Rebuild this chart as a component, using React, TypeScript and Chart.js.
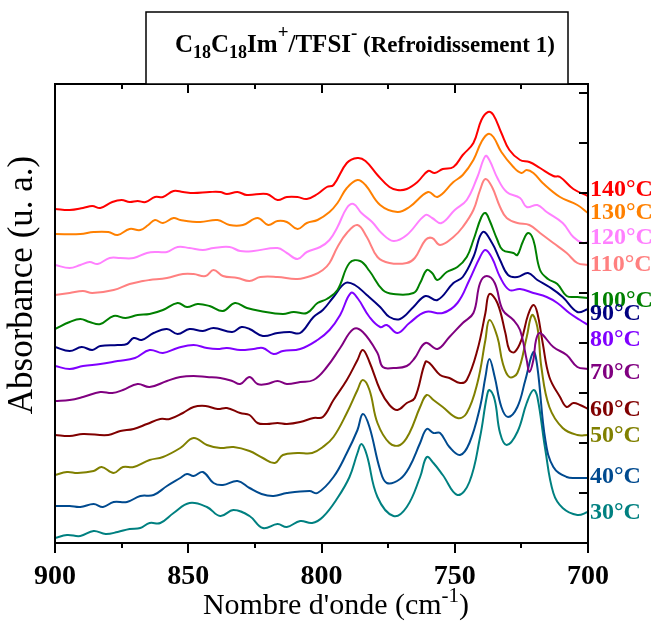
import React, { useEffect, useRef } from 'react';
import { Chart, registerables } from 'chart.js';

Chart.register(...registerables);

// ---------- DATA ----------
const temps = ['140°C', '130°C', '120°C', '110°C', '100°C', '90°C', '80°C', '70°C', '60°C', '50°C', '40°C', '30°C'];
const colors = ['#ff0000', '#ff8000', '#ff80ff', '#ff8080', '#008000', '#000080', '#8000ff', '#800080', '#800000', '#808000', '#004a8f', '#008080'];

const xMajorTicks = [900, 850, 800, 750, 700];
const xMinorTicks = [875, 825, 775, 725];
const yTicks = [1, 2, 3, 4, 5, 6, 7, 8, 9];

const s140: [number, number][] = [[900,6.68],[894.5,6.66],[889.5,6.70],[886,6.74],[883,6.70],[878.5,6.82],[875,6.86],[872,6.82],[869,6.84],[866,6.82],[862.5,6.92],[859.5,6.92],[855.5,7.04],[852,7.02],[848,7.00],[842,7.02],[838,7.02],[835.5,6.98],[831.5,7.02],[828,6.96],[820.5,6.98],[816.5,6.86],[813,6.92],[809,6.92],[805.5,6.88],[801.5,6.98],[798,7.12],[795.5,7.16],[790.5,7.60],[786.5,7.70],[783.5,7.64],[779,7.36],[774.5,7.12],[771.5,7.06],[768,7.08],[764,7.22],[760,7.44],[757.5,7.40],[754.5,7.48],[750.5,7.52],[747,7.76],[743,8.00],[740,8.46],[737.5,8.62],[735.5,8.56],[732.5,8.20],[729.5,7.86],[725.5,7.66],[722,7.62],[718,7.50],[713,7.34],[710.5,7.32],[705.5,7.08],[700,6.94]];
const s130: [number, number][] = [[900,6.18],[890.5,6.18],[885.5,6.22],[880,6.22],[876.5,6.16],[872,6.28],[868,6.26],[865,6.36],[862.5,6.46],[859.5,6.40],[855.5,6.50],[853,6.46],[845.5,6.42],[839,6.46],[834.5,6.36],[829.5,6.36],[824,6.50],[820,6.36],[816.5,6.44],[813,6.42],[809,6.28],[805.5,6.40],[801.5,6.46],[797,6.62],[794,6.80],[790.5,7.10],[786.5,7.26],[783.5,7.16],[778,6.76],[771.5,6.62],[767,6.72],[760,7.02],[756.5,6.92],[750.5,7.22],[747,7.36],[743,7.66],[740,8.02],[737.5,8.18],[735.5,8.12],[732.5,7.82],[728,7.52],[725,7.40],[723,7.46],[720.5,7.40],[717,7.20],[710.5,6.92],[704,6.76],[700,6.60]];
const s120: [number, number][] = [[900,5.56],[894.5,5.50],[890.5,5.56],[887,5.62],[884,5.58],[879.5,5.70],[875.5,5.70],[870.5,5.70],[865.5,5.80],[861.5,5.82],[858,5.82],[854,5.92],[849.5,5.90],[844.5,5.86],[840.5,5.90],[834.5,5.92],[830.5,5.84],[825.5,5.84],[816.5,5.90],[813,5.80],[809,5.68],[805.5,5.82],[800.5,5.92],[797,6.06],[794,6.32],[790.5,6.70],[788,6.78],[785,6.60],[781,6.42],[777.5,6.20],[773,6.04],[768,6.16],[761,6.56],[758.5,6.50],[755,6.40],[750,6.66],[745.5,6.86],[741.5,7.32],[738.5,7.74],[737,7.66],[734,7.30],[730.5,7.02],[725.5,6.90],[723,6.72],[719,6.76],[715.5,6.62],[709.5,6.40],[705.5,6.12],[702,6.00],[700,6.02]];
const s110: [number, number][] = [[900,4.96],[894.5,5.00],[889.5,5.04],[886,5.00],[878,5.06],[872,5.18],[867,5.24],[864.5,5.26],[858,5.30],[852,5.38],[848,5.38],[843.5,5.34],[840.5,5.46],[837,5.34],[831.5,5.30],[827,5.24],[823,5.32],[816.5,5.32],[809,5.28],[803,5.36],[799.5,5.46],[797,5.60],[794,5.92],[790.5,6.20],[786.5,6.36],[783,6.12],[779,5.72],[774.5,5.60],[768,5.60],[765,5.70],[761,6.06],[758.5,6.10],[755.5,5.96],[750.5,6.12],[747,6.32],[743,6.66],[740.5,7.06],[738.5,7.28],[736,7.12],[733,6.72],[730.5,6.50],[726.5,6.40],[722,6.36],[718,6.20],[713,6.00],[708,5.80],[704,5.60],[700,5.56]];
const s100: [number, number][] = [[900,4.28],[894.5,4.42],[890.5,4.48],[887,4.42],[883,4.38],[878,4.54],[873.5,4.50],[869,4.56],[864.5,4.58],[859.5,4.66],[854,4.80],[850.5,4.72],[846.5,4.78],[842,4.74],[837,4.64],[832.5,4.80],[828,4.70],[823,4.64],[814.5,4.58],[810.5,4.62],[805.5,4.60],[801.5,4.80],[798,4.88],[794,5.06],[789.5,5.60],[785.5,5.64],[782,5.44],[777,5.06],[773,4.98],[765.5,5.00],[763,5.20],[760.5,5.46],[758.5,5.40],[756.5,5.26],[753,5.42],[749,5.52],[745.5,5.72],[743,6.06],[740,6.52],[738.5,6.60],[737,6.46],[734,6.06],[732,5.86],[728,5.80],[726.5,5.76],[724.5,6.02],[722.5,6.20],[720.5,6.06],[718,5.46],[715,5.28],[711.5,5.18],[708,4.94],[704,4.92],[700,4.90]];
const s90: [number, number][] = [[900,3.92],[894.5,3.84],[890,3.92],[886,3.86],[883,3.94],[876.5,3.96],[873,3.98],[870.5,4.10],[867.5,4.06],[863,4.20],[858,4.28],[854,4.18],[849.5,4.28],[844.5,4.24],[840.5,4.30],[833.5,4.22],[830,4.32],[827,4.28],[822,4.14],[816.5,4.20],[812,4.22],[808,4.20],[803,4.52],[799.5,4.66],[795.5,4.92],[791,5.20],[787.5,5.16],[783,4.96],[778,4.72],[774.5,4.52],[770.5,4.48],[765.5,4.72],[761,4.94],[756.5,4.86],[750.5,5.20],[747,5.32],[743,5.72],[739.5,6.22],[736,6.00],[733,5.66],[730,5.36],[726.5,5.32],[722.5,5.40],[719,5.26],[714.5,5.12],[709.5,4.92],[704,4.62],[700,4.68]];
const s80: [number, number][] = [[900,3.54],[894.5,3.48],[889.5,3.54],[883,3.58],[876.5,3.64],[870,3.70],[864.5,3.86],[859.5,3.80],[854,3.90],[848,3.96],[843,3.90],[839,3.88],[835.5,3.90],[830.5,3.86],[825.5,3.88],[822,3.90],[818,3.78],[814.5,3.84],[808,3.88],[801.5,4.06],[797,4.26],[793,4.56],[789,5.00],[786.5,4.90],[782,4.52],[778,4.32],[775.5,4.36],[771.5,4.20],[767,4.40],[761,4.62],[754.5,4.60],[749,4.80],[744.5,5.26],[740.5,5.72],[738.5,5.86],[736,5.70],[733,5.32],[729.5,5.06],[725.5,5.08],[720.5,5.00],[715.5,4.92],[711.5,4.80],[707,4.60],[703,4.46],[700,4.36]];
const s70: [number, number][] = [[900,2.84],[894.5,2.86],[889.5,2.92],[883,3.02],[878.5,3.00],[874.5,3.06],[869,3.18],[864.5,3.12],[858,3.24],[853,3.32],[848,3.34],[843,3.32],[838,3.30],[833.5,3.24],[830.5,3.18],[827,3.32],[824,3.18],[820.5,3.18],[816.5,3.24],[813,3.18],[808,3.22],[803,3.26],[798,3.52],[793,3.90],[788,4.28],[784.5,4.22],[779,3.80],[777,3.52],[773,3.50],[768,3.54],[765,3.70],[761,4.00],[756.5,3.88],[752,4.12],[747,4.40],[743,4.60],[740.5,5.20],[738,5.34],[735,5.20],[732,4.66],[728,4.46],[725.5,4.26],[723,3.66],[722,3.42],[720.5,3.66],[719.5,4.06],[718,4.20],[713,3.92],[708,3.76],[704,3.52],[700,3.48]];
const s60: [number, number][] = [[900,2.16],[894.5,2.14],[889.5,2.18],[880,2.16],[875.5,2.24],[870.5,2.28],[865.5,2.38],[860.5,2.48],[857,2.48],[852,2.60],[848,2.72],[843.5,2.74],[839,2.68],[835.5,2.70],[830.5,2.60],[827,2.56],[824,2.40],[820.5,2.38],[816.5,2.40],[813,2.38],[808,2.42],[803,2.50],[799.5,2.52],[795.5,2.86],[790.5,3.26],[786.5,3.66],[784.5,3.86],[782,3.62],[778,3.06],[774.5,2.76],[771.5,2.66],[768,2.80],[765,2.90],[761,3.62],[759.5,3.60],[755.5,3.36],[752,3.30],[748,3.20],[745.5,3.26],[741.5,3.86],[738.5,4.60],[737,4.98],[734,4.80],[731,4.20],[729.5,3.86],[727.5,3.82],[725,4.06],[722.5,4.56],[720.5,4.76],[719,4.60],[717,4.00],[714.5,3.32],[710.5,2.92],[708,2.72],[705.5,2.80],[703,2.76],[700,2.68]];
const s50: [number, number][] = [[900,1.36],[895.5,1.42],[891.5,1.40],[885.5,1.44],[882.5,1.52],[878,1.40],[874.5,1.52],[870.5,1.52],[864.5,1.66],[859.5,1.72],[853,1.90],[848,2.10],[843,1.96],[838,1.90],[833,1.92],[827,1.84],[822,1.70],[817.5,1.60],[814.5,1.76],[809,1.80],[803.5,1.80],[799.5,1.92],[795.5,2.12],[790.5,2.60],[786.5,3.06],[784.5,3.26],[782,3.06],[779,2.40],[774.5,2.00],[770.5,1.96],[767,2.20],[763,2.72],[760.5,2.96],[758,2.86],[754.5,2.72],[749,2.50],[745.5,2.60],[741.5,3.20],[738.5,4.06],[737,4.46],[734,4.12],[732,3.60],[729.5,3.32],[726.5,3.40],[723,4.12],[721,4.56],[719,4.32],[717.5,3.52],[714.5,2.72],[709.5,2.30],[704,2.16],[700,2.16]];
const s40: [number, number][] = [[900,0.74],[894.5,0.74],[890.5,0.72],[885.5,0.78],[882,0.72],[878,0.82],[873,0.82],[868,0.94],[863,0.96],[858,1.14],[853,1.30],[850.5,1.38],[848,1.34],[844.5,1.42],[840.5,1.20],[837,1.16],[831.5,1.24],[827,1.10],[822.5,0.98],[818,0.94],[813,1.00],[804.5,1.04],[801.5,1.00],[795.5,1.32],[790.5,1.80],[786.5,2.26],[784.5,2.58],[782,2.32],[778,1.46],[775.5,1.20],[770.5,1.28],[767,1.52],[763,2.00],[760.5,2.28],[758,2.20],[755.5,2.20],[752,1.92],[748,1.76],[744.5,2.00],[740.5,2.72],[738.5,3.32],[737,3.68],[735,3.32],[732.5,2.72],[730,2.52],[726.5,2.72],[723.5,3.26],[720.5,3.82],[719,3.52],[716,2.06],[713,1.52],[708,1.32],[704,1.30],[700,1.30]];
const s30: [number, number][] = [[900,0.10],[895.5,0.16],[890.5,0.14],[885.5,0.24],[881,0.18],[876.5,0.22],[872,0.28],[868,0.30],[864.5,0.40],[860.5,0.40],[855.5,0.60],[849.5,0.80],[843,0.72],[838,0.54],[833,0.66],[827,0.54],[822,0.30],[816.5,0.38],[813,0.32],[808,0.44],[803.5,0.40],[799.5,0.52],[794,0.90],[789.5,1.32],[786.5,1.80],[785,1.98],[783,1.76],[779,0.92],[773,0.54],[768,0.72],[763,1.32],[760.5,1.72],[758,1.60],[754.5,1.36],[749,0.96],[744.5,1.22],[740.5,2.12],[738,2.92],[737,3.06],[735,2.86],[733,2.20],[730.5,1.96],[726.5,2.22],[723,2.80],[720.5,3.06],[719,2.92],[716,1.86],[713,1.00],[709.5,0.70],[704,0.56],[700,0.62]];

const series = [s140, s130, s120, s110, s100, s90, s80, s70, s60, s50, s40, s30];

// ---------- STYLE / LAYOUT ----------
const SERIF = "'Liberation Serif', 'Times New Roman', serif";
const labelNudge = [-6, 0, -4, 0, 3, 5, 15, 4, 1, 1, -1, 1];

type Run = { t: string; size: number; dy: number; bold: boolean };

function drawRuns(ctx: CanvasRenderingContext2D, x: number, y: number, runs: Run[], align: 'left' | 'center') {
  let total = 0;
  for (const r of runs) {
    ctx.font = `${r.bold ? 'bold ' : ''}${r.size}px ${SERIF}`;
    total += ctx.measureText(r.t).width;
  }
  let cx = align === 'center' ? x - total / 2 : x;
  ctx.textAlign = 'left';
  ctx.textBaseline = 'alphabetic';
  for (const r of runs) {
    ctx.font = `${r.bold ? 'bold ' : ''}${r.size}px ${SERIF}`;
    ctx.fillText(r.t, cx, y + r.dy);
    cx += ctx.measureText(r.t).width;
  }
}

const decoPlugin = {
  id: 'deco',
  afterDraw(chart: any) {
    const { ctx, chartArea: a, scales } = chart;
    const xs = scales.x;
    const ys = scales.y;
    ctx.save();
    ctx.strokeStyle = '#000';
    ctx.fillStyle = '#000';
    ctx.lineWidth = 2;
    ctx.strokeRect(a.left, a.top, a.right - a.left, a.bottom - a.top);

    ctx.beginPath();
    for (const v of xMajorTicks) {
      const px = Math.round(xs.getPixelForValue(v));
      ctx.moveTo(px, a.bottom); ctx.lineTo(px, a.bottom + 10);
      ctx.moveTo(px, a.top); ctx.lineTo(px, a.top + 9);
    }
    for (const v of xMinorTicks) {
      const px = Math.round(xs.getPixelForValue(v));
      ctx.moveTo(px, a.bottom); ctx.lineTo(px, a.bottom + 5);
      ctx.moveTo(px, a.top); ctx.lineTo(px, a.top + 5);
    }
    for (const v of yTicks) {
      const py = Math.round(ys.getPixelForValue(v));
      ctx.moveTo(a.right, py); ctx.lineTo(a.right - 9, py);
    }
    ctx.stroke();

    // right labels
    ctx.textAlign = 'left';
    ctx.textBaseline = 'middle';
    ctx.font = `bold 24px ${SERIF}`;
    temps.forEach((t, i) => {
      const s = series[i];
      const py = ys.getPixelForValue(s[s.length - 1][1]) + labelNudge[i];
      ctx.fillStyle = colors[i];
      ctx.fillText(t, a.right + 2, py);
    });

    // title box
    ctx.fillStyle = '#fff';
    ctx.fillRect(146, 12, 422, a.top - 12);
    ctx.strokeStyle = '#000';
    ctx.lineWidth = 1.5;
    ctx.strokeRect(146, 12, 422, a.top - 12);
    ctx.fillStyle = '#000';
    drawRuns(ctx, 175, 52, [
      { t: 'C', size: 25, dy: 0, bold: true },
      { t: '18', size: 18, dy: 6, bold: true },
      { t: 'C', size: 25, dy: 0, bold: true },
      { t: '18', size: 18, dy: 6, bold: true },
      { t: 'Im', size: 25, dy: 0, bold: true },
      { t: '+', size: 19, dy: -14, bold: true },
      { t: '/TFSI', size: 25, dy: 0, bold: true },
      { t: '-', size: 19, dy: -13, bold: true },
      { t: ' (Refroidissement 1)', size: 23, dy: 0, bold: true },
    ], 'left');

    // x axis title
    drawRuns(ctx, 336, 614, [
      { t: "Nombre d'onde (cm", size: 30, dy: 0, bold: false },
      { t: '-1', size: 21, dy: -12, bold: false },
      { t: ')', size: 30, dy: 0, bold: false },
    ], 'center');

    // y axis title
    ctx.save();
    ctx.translate(23, 285);
    ctx.rotate(-Math.PI / 2);
    ctx.textAlign = 'center';
    ctx.textBaseline = 'middle';
    ctx.font = `35px ${SERIF}`;
    ctx.fillText('Absorbance (u. a.)', 0, 0);
    ctx.restore();

    ctx.restore();
  },
};

export default function App() {
  const ref = useRef<HTMLCanvasElement | null>(null);
  useEffect(() => {
    if (!ref.current) return;
    const chart = new Chart(ref.current, {
      type: 'line',
      data: {
        datasets: series.map((s, i) => ({
          label: temps[i],
          data: s.map(([x, y]) => ({ x, y })),
          borderColor: colors[i],
          backgroundColor: colors[i],
          borderWidth: 2,
          pointRadius: 0,
          fill: false,
          tension: 0.4,
        })),
      },
      options: {
        responsive: false,
        animation: false,
        devicePixelRatio: 1,
        layout: { padding: { left: 55, right: 71, top: 84, bottom: 0 } },
        plugins: { legend: { display: false }, tooltip: { enabled: false } },
        scales: {
          x: {
            type: 'linear',
            min: 700,
            max: 900,
            reverse: true,
            afterBuildTicks: (s: any) => { s.ticks = xMajorTicks.map((v) => ({ value: v })); },
            afterFit: (s: any) => { s.height = 80; },
            grid: { display: false, drawTicks: false },
            border: { display: false },
            ticks: {
              autoSkip: false,
              maxRotation: 0,
              padding: 17,
              color: '#000',
              font: { family: SERIF, size: 28, weight: 'bold' },
            },
          },
          y: {
            type: 'linear',
            min: 0,
            max: 9.18,
            display: false,
          },
        },
      },
      plugins: [decoPlugin],
    } as any);
    return () => chart.destroy();
  }, []);
  return (
    <div style={{ position: 'fixed', left: 0, top: 0, width: 659, height: 623, background: '#fff' }}>
      <canvas ref={ref} width={659} height={623} />
    </div>
  );
}
